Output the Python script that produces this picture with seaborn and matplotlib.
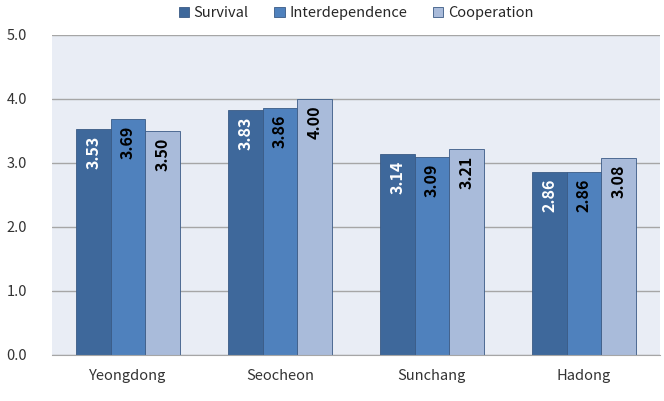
import matplotlib
matplotlib.use("Agg")
import matplotlib.pyplot as plt
import pandas as pd
import seaborn as sns

regions = ["Yeongdong", "Seocheon", "Sunchang", "Hadong"]
series = ["Survival", "Interdependence", "Cooperation"]
survival = [3.53, 3.83, 3.14, 2.86]
interdependence = [3.69, 3.86, 3.09, 2.86]
cooperation = [3.50, 4.00, 3.21, 3.08]
colors = ["#3E689B", "#4F81BD", "#A9BBDA"]
text_colors = ["white", "black", "black"]

df = pd.DataFrame({
    "region": regions * 3,
    "series": [s for s in series for _ in regions],
    "value": survival + interdependence + cooperation,
})

sns.set_style("white")
plt.rcParams["font.family"] = ["Noto Sans CJK KR", "DejaVu Sans"]

fig = plt.figure(figsize=(6.64, 4.01), dpi=100)
ax = fig.add_axes([0.078, 0.115, 0.916, 0.798])
ax.set_facecolor("#E9EDF5")

sns.barplot(data=df, x="region", y="value", hue="series", palette=colors,
            width=0.68, edgecolor="#3A5A85", linewidth=0.6, ax=ax,
            legend=True, saturation=1)

# value labels, rotated, just under the top of each bar
for cont, tc in zip(ax.containers, text_colors):
    for patch in cont.patches:
        h = patch.get_height()
        ax.text(patch.get_x() + patch.get_width() / 2, h - 0.1, f"{h:.2f}",
                rotation=90, ha="center", va="top", color=tc,
                fontsize=11.5, fontweight="semibold")

ax.set_ylim(0, 5)
ax.set_xlim(-0.5, 3.5)
ax.set_yticks([0, 1, 2, 3, 4, 5])
ax.set_yticklabels([f"{v:.1f}" for v in range(6)], fontsize=10.5, color="#333333")
ax.tick_params(axis="y", length=0, pad=18)
ax.tick_params(axis="x", length=0, labelsize=10.5, colors="#333333", pad=10)
ax.yaxis.grid(True, color="#A6A6A6", linewidth=1)
ax.set_axisbelow(True)
for side in ["top", "right", "left"]:
    ax.spines[side].set_visible(False)
ax.spines["bottom"].set_color("#A6A6A6")
ax.set_xlabel("")
ax.set_ylabel("")

handles, labels = ax.get_legend_handles_labels()
ax.legend(handles, labels, loc="lower center", bbox_to_anchor=(0.5, 1.0),
          ncol=3, frameon=False, fontsize=10.5, handlelength=0.7,
          handleheight=0.7, handletextpad=0.3, columnspacing=1.8,
          borderaxespad=0.6)

fig.savefig("out.png", dpi=100)
